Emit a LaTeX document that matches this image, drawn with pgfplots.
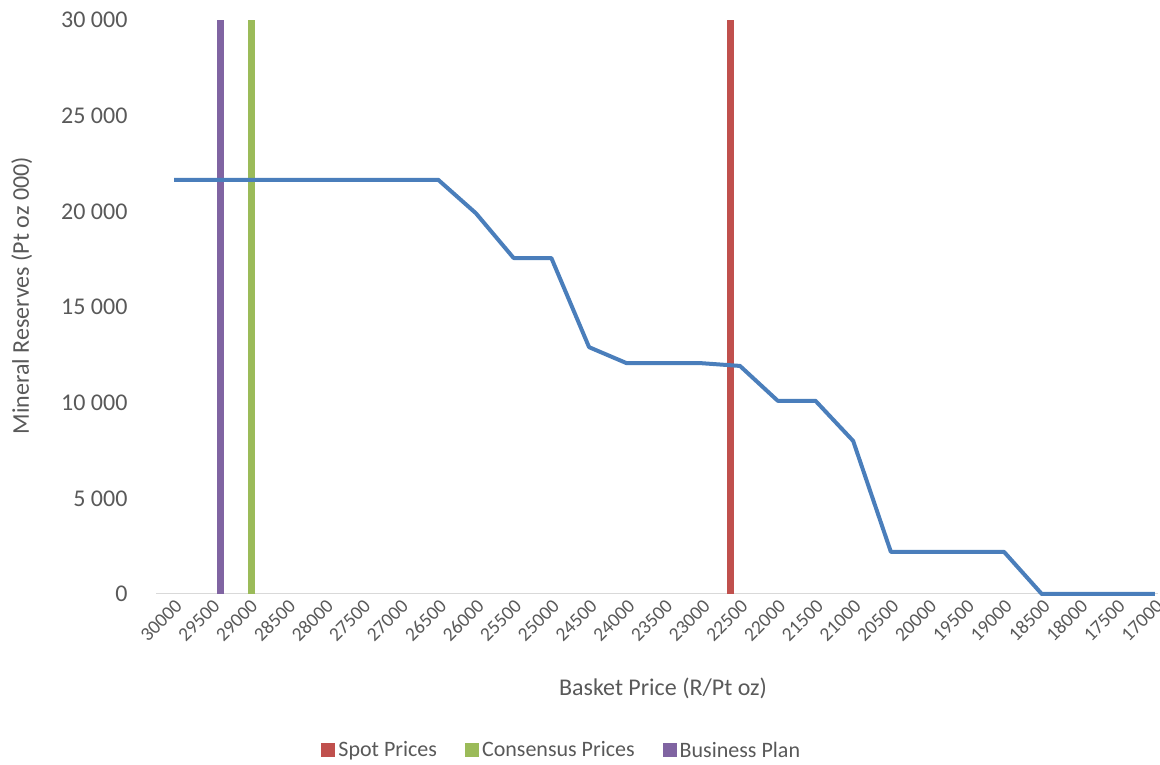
\documentclass[border=0pt]{standalone}
\usepackage{fontspec}
\setmainfont{Carlito}
\usepackage{pgfplots}
\usepackage{pgfplotstable}
\pgfplotsset{compat=1.18}
\definecolor{txt}{HTML}{595959}
\definecolor{axl}{HTML}{D9D9D9}
\definecolor{cblue}{HTML}{4A7EBB}
\definecolor{cred}{HTML}{C0504D}
\definecolor{cgreen}{HTML}{9BBB59}
\definecolor{cpurple}{HTML}{8064A2}

\pgfplotstableread{
x y
30000 21650
29500 21650
29000 21650
28500 21650
28000 21650
27500 21650
27000 21650
26500 21650
26000 19900
25500 17560
25000 17560
24500 12900
24000 12060
23500 12060
23000 12060
22500 11920
22000 10100
21500 10100
21000 8000
20500 2200
20000 2200
19500 2200
19000 2200
18500 0
18000 0
17500 0
17000 0
}\reserves

\begin{document}
\begin{tikzpicture}
\useasboundingbox (-156pt,-171pt) rectangle (1004pt,594pt);
\begin{axis}[
  at={(0pt,0pt)}, anchor=south west,
  scale only axis, width=1002pt, height=574pt,
  x dir=reverse, xmin=16960, xmax=30240, ymin=0, ymax=30000,
  clip=false,
  scaled x ticks=false, scaled y ticks=false,
  axis x line*=bottom, axis y line*=left,
  x axis line style={-, draw=axl, line width=1pt},
  y axis line style={draw=none},
  major tick length=0pt,
  xtick={17000,17500,18000,18500,19000,19500,20000,20500,21000,21500,22000,22500,23000,23500,24000,24500,25000,25500,26000,26500,27000,27500,28000,28500,29000,29500,30000},
  xticklabels={17000,17500,18000,18500,19000,19500,20000,20500,21000,21500,22000,22500,23000,23500,24000,24500,25000,25500,26000,26500,27000,27500,28000,28500,29000,29500,30000},
  xticklabel style={rotate=45, anchor=north east, font=\fontsize{19.5}{23}\selectfont, text=txt, inner sep=3pt},
  ytick={0,5000,10000,15000,20000,25000,30000},
  yticklabels={0,5 000,10 000,15 000,20 000,25 000,30 000},
  yticklabel style={font=\fontsize{24}{28}\selectfont, text=txt, xshift=-25pt},
  xlabel={Basket Price (R/Pt oz)},
  ylabel={Mineral Reserves (Pt oz 000)},
  xlabel style={at={(axis description cs:0.506,-0.164)}, anchor=center, font=\fontsize{24}{28}\selectfont, text=txt},
  ylabel style={at={(axis description cs:-0.134,0.52)}, anchor=center, font=\fontsize{24}{28}\selectfont, text=txt},
  legend image code/.code={\fill[#1,draw=none] (0pt,-7pt) rectangle (14pt,7pt);},
  legend style={at={(axis description cs:0.405,-0.272)}, anchor=center, draw=none,
    font=\fontsize{22}{26}\selectfont, text=txt, legend columns=3,
    /tikz/every odd column/.append style={column sep=1pt}},
]
\addplot[cred, line width=7pt] coordinates {(22620,0) (22620,30000)};
\addlegendentry{Spot Prices\rule{26pt}{0pt}}
\addplot[cgreen, line width=7pt] coordinates {(28980,0) (28980,30000)};
\addlegendentry{Consensus Prices\rule{26pt}{0pt}}
\addplot[cpurple, line width=7pt] coordinates {(29390,0) (29390,30000)};
\addlegendentry{Business Plan}
\addplot[cblue, line width=4pt, line join=round, forget plot] table[x=x,y=y] {\reserves};
\end{axis}
\end{tikzpicture}
\end{document}
